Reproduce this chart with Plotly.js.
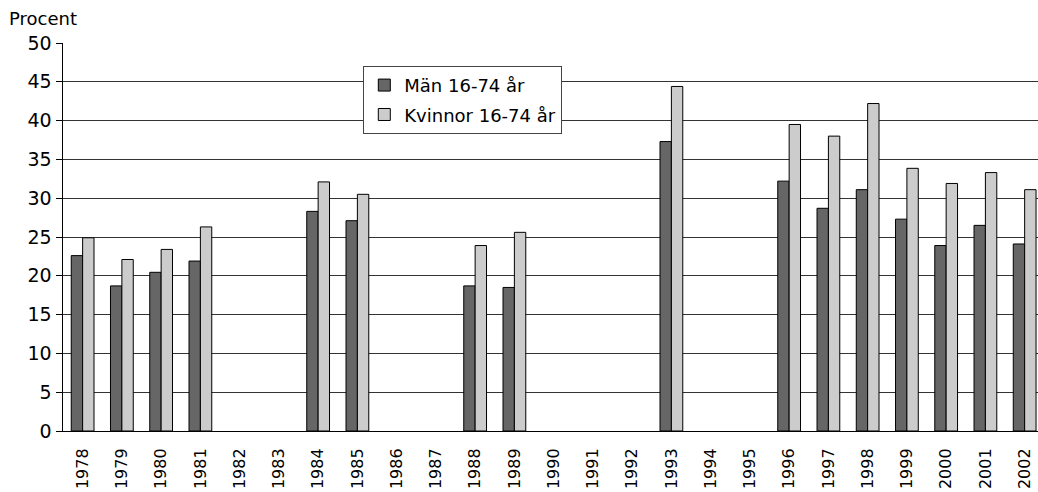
<!DOCTYPE html>
<html>
<head>
<meta charset="utf-8">
<script src="https://cdn.plot.ly/plotly-3.0.1.min.js"></script>
<style>html,body{margin:0;padding:0;background:#fff;}#chart{width:1038px;height:492px;}</style>
</head>
<body>
<div id="chart"></div>
<script>
const years = ["1978","1979","1980","1981","1982","1983","1984","1985","1986","1987","1988","1989","1990","1991","1992","1993","1994","1995","1996","1997","1998","1999","2000","2001","2002"];
const men = [22.6, 18.7, 20.45, 21.9, null, null, 28.3, 27.1, null, null, 18.7, 18.5, null, null, null, 37.3, null, null, 32.2, 28.7, 31.1, 27.3, 23.9, 26.5, 24.1];
const women = [24.9, 22.1, 23.4, 26.3, null, null, 32.1, 30.5, null, null, 23.9, 25.6, null, null, null, 44.4, null, null, 39.5, 38.0, 42.2, 33.85, 31.9, 33.3, 31.1];
const seriesNames = ["Män 16-74 år", "Kvinnor 16-74 år"];
const yTicks = [0,5,10,15,20,25,30,35,40,45,50];

const font = "DejaVu Sans, Liberation Sans, sans-serif";
const traces = [
  {type:"bar", name:seriesNames[0], x:years, y:men, legendgroup:"a",
   marker:{color:"#666666", line:{color:"#000000", width:1}}},
  {type:"bar", name:seriesNames[1], x:years, y:women, legendgroup:"b",
   marker:{color:"#cccccc", line:{color:"#000000", width:1}}}
];
const layout = {
  width:1038, height:492,
  margin:{l:63, r:0, t:43, b:61},
  paper_bgcolor:"#fff", plot_bgcolor:"#fff",
  font:{family:font, size:16, color:"#000"},
  barmode:"group", bargap:0.42, bargroupgap:0,
  showlegend:true,
  legend:{x:0.308, y:0.941, xanchor:"left", yanchor:"top",
    bgcolor:"#fff", bordercolor:"#444", borderwidth:1,
    font:{family:font, size:18, color:"#000"},
    traceorder:"grouped", tracegroupgap:3, itemwidth:30},
  xaxis:{type:"category", range:[-0.5, 24.34], tickangle:-90,
    tickfont:{family:font, size:16, color:"#000"},
    showgrid:false, showline:true, linecolor:"#000", linewidth:1,
    ticks:"", ticklabelstandoff:10, fixedrange:true},
  yaxis:{range:[0,50], tickvals:yTicks, ticktext:yTicks.map(String),
    tickfont:{family:font, size:19, color:"#000"},
    showgrid:true, gridcolor:"#333", gridwidth:1,
    showline:true, linecolor:"#000", linewidth:1.5,
    ticks:"outside", ticklen:6, tickcolor:"#000", zeroline:false, fixedrange:true},
  annotations:[{text:"Procent", xref:"paper", yref:"paper",
    x:-0.057, y:1.064, xanchor:"left", yanchor:"middle", showarrow:false,
    font:{family:font, size:18, color:"#000"}}]
};
Plotly.newPlot("chart", traces, layout, {displayModeBar:false, staticPlot:true});
</script>
</body>
</html>
